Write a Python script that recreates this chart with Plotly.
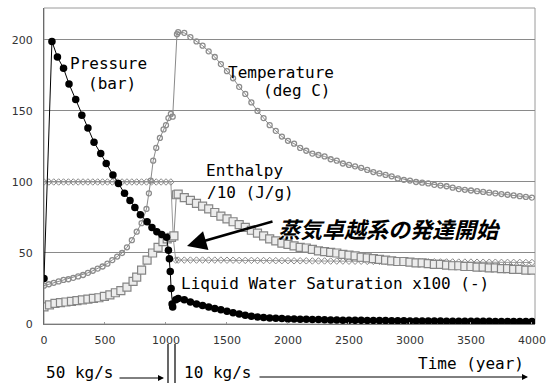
import plotly.graph_objects as go

# ---------------- data ----------------
late_years = [1100, 1150, 1200, 1250, 1300, 1350, 1400, 1450, 1500, 1550,
              1600, 1650, 1700, 1750, 1800, 1850, 1900, 1950, 2000, 2050,
              2100, 2150, 2200, 2250, 2300, 2350, 2400, 2450, 2500, 2550,
              2600, 2650, 2700, 2750, 2800, 2850, 2900, 2950, 3000, 3050,
              3100, 3150, 3200, 3250, 3300, 3350, 3400, 3450, 3500, 3550,
              3600, 3650, 3700, 3750, 3800, 3850, 3900, 3950, 4000]

pres_early_t = [0, 65, 110, 160, 205, 260, 310, 360, 410, 465, 510, 565, 610, 660,
                705, 745, 790, 845, 885, 925, 965, 1005, 1020, 1028, 1035, 1042,
                1050, 1055, 1080]
pres_early_v = [32, 199, 188, 180, 169, 158, 147, 138, 128, 120, 113, 105, 99, 92,
                87, 82, 77, 72, 68, 65, 63, 61, 52, 46, 37, 25, 14, 12, 17]
pres_late_v = [18, 17, 15.5, 14, 13, 12, 11, 10, 9, 8,
               7, 6.2, 5.5, 5, 4.5, 4.2, 4, 3.8, 3.6, 3.5,
               3.4, 3.3, 3.2, 3.1, 3.0, 2.9, 2.8, 2.7, 2.7, 2.6,
               2.6, 2.5, 2.5, 2.4, 2.4, 2.3, 2.3, 2.3, 2.2, 2.2,
               2.2, 2.1, 2.1, 2.1, 2.0, 2.0, 2.0, 2.0, 1.9, 1.9,
               1.9, 1.9, 1.8, 1.8, 1.8, 1.8, 1.7, 1.7, 1.7]

temp_early_t = [0, 40, 80, 120, 160, 200, 240, 280, 320, 360, 400, 440, 480, 520,
                560, 600, 640, 680, 720, 760, 800, 840, 860, 875, 895, 920, 950,
                980, 1000, 1020, 1040, 1055, 1090]
temp_early_v = [27, 28, 29, 30, 31, 31.5, 32.5, 33.5, 34.5, 36, 37.5, 39, 40.5, 42.5,
                45, 47.5, 50, 54, 59, 65, 71, 81, 92, 101, 115, 124, 131,
                137, 140, 145, 148, 146, 204]
temp_late_v = [205.5, 205, 202, 199, 196, 192, 188, 183, 178, 173,
               167, 162, 156, 150, 145, 140, 136, 132, 129, 127,
               124, 122, 120, 119, 118, 116, 115, 113, 112, 111,
               110, 108.5, 107, 106, 105, 104, 102.5, 101.5, 101, 100,
               99.5, 99, 98, 97.5, 97, 96, 95, 94.5, 94, 93.5,
               93, 92.5, 92, 91.5, 91, 90.5, 90, 89.5, 89]

enth_early_t = [0, 45, 90, 135, 180, 225, 270, 315, 360, 405, 450, 495, 540, 585,
                630, 680, 730, 760, 800, 845, 890, 935, 975, 1010, 1045, 1065, 1085]
enth_early_v = [12, 13.5, 14.5, 15, 15.5, 16, 16.5, 17, 17.5, 18, 18.5, 19.5, 20.5, 22,
                23.5, 26, 30, 33, 38, 45, 50, 54, 58, 60, 61, 62, 91]
enth_late_v = [91.5, 89, 87, 85, 83, 81, 78.5, 76, 74, 72,
               70, 68, 66, 64, 62, 60, 58.5, 57, 56, 55,
               54, 53.5, 52.5, 51.5, 51, 50.5, 50, 49, 48.5, 48,
               47, 46.5, 46, 45.5, 45, 44.5, 44, 44, 43.5, 43,
               43, 42.5, 42, 42, 41.5, 41, 41, 40.5, 40.5, 40,
               40, 39.5, 39.5, 39, 39, 38.5, 38.5, 38, 38]

sat_early_t = [0, 40, 80, 120, 160, 200, 240, 280, 320, 360, 400, 440, 480, 520,
               560, 600, 640, 680, 720, 760, 800, 840, 880, 920, 960, 1000, 1040,
               1060, 1080]
sat_early_v = [100, 100, 100, 100, 100, 100, 100, 100, 100, 100, 100, 100, 100, 100,
               100, 100, 100, 100, 100, 100, 100, 100, 100, 100, 100, 100, 100,
               60, 45]
sat_late_v = [45, 45, 45, 45, 45, 45, 45, 45, 44.9, 44.9,
              44.8, 44.8, 44.8, 44.7, 44.7, 44.7, 44.6, 44.6, 44.6, 44.5,
              44.5, 44.5, 44.4, 44.4, 44.4, 44.3, 44.3, 44.3, 44.2, 44.2,
              44.2, 44.1, 44.1, 44.1, 44.0, 44.0, 44.0, 43.9, 43.9, 43.9,
              43.8, 43.8, 43.8, 43.7, 43.7, 43.7, 43.6, 43.6, 43.6, 43.5,
              43.5, 43.5, 43.5, 43.4, 43.4, 43.4, 43.4, 43.3, 43.3]

y_ticks = [0, 50, 100, 150, 200]
x_ticks = [0, 500, 1000, 1500, 2000, 2500, 3000, 3500, 4000]

# ---------------- layout geometry ----------------
W, H = 559, 383
ML, MR, MT, MB = 44, 24, 8, 59
PW, PH = W - ML - MR, H - MT - MB


def px(x):
    return (x - ML) / PW


def py(y):
    return (H - MB - y) / PH


MONO = "DejaVu Sans Mono"
GRAYM = "#8c8c8c"

fig = go.Figure()

fig.add_trace(go.Scatter(
    x=sat_early_t + late_years, y=sat_early_v + sat_late_v, mode="lines+markers",
    line=dict(color="#9a9a9a", width=1),
    marker=dict(symbol="diamond-open", size=5, color="#8a8a8a", line=dict(width=1)),
    showlegend=False))

fig.add_trace(go.Scatter(
    x=temp_early_t + late_years, y=temp_early_v + temp_late_v, mode="lines+markers",
    line=dict(color="#8a8a8a", width=1),
    marker=dict(symbol="circle-open", size=5, color=GRAYM, line=dict(width=1.3)),
    showlegend=False))

fig.add_trace(go.Scatter(
    x=enth_early_t + late_years, y=enth_early_v + enth_late_v, mode="lines+markers",
    line=dict(color="#8a8a8a", width=1),
    marker=dict(symbol="square", size=8, color="#ececec",
                line=dict(color="#858585", width=1.2)),
    showlegend=False))

fig.add_trace(go.Scatter(
    x=pres_early_t + late_years, y=pres_early_v + pres_late_v, mode="lines+markers",
    line=dict(color="black", width=1),
    marker=dict(symbol="circle", size=7.5, color="black"),
    showlegend=False))

ann = []


def txt(s, x, y, xanchor="left", size=16, **kw):
    ann.append(dict(text=s, x=px(x), y=py(y), xref="paper", yref="paper",
                    xanchor=xanchor, yanchor="middle", showarrow=False,
                    font=dict(family=kw.pop("family", MONO), size=size,
                              color="black"), **kw))


txt("Pressure", 108, 63, xanchor="center")
txt("(bar)", 112, 83, xanchor="center")
txt("Temperature", 281, 72, xanchor="center")
txt("(deg C)", 261, 90)
txt("Enthalpy", 204, 170)
txt("/10 (J/g)", 205, 192)
txt("Liquid Water Saturation x100 (-)", 179, 283)
txt("<b><i>蒸気卓越系の発達開始</i></b>", 276, 228, size=22, family="Noto Sans CJK JP")
txt("50 kg/s", 44, 372)
txt("10 kg/s", 182, 372)
txt("Time (year)", 416, 363)


def arrow(x0, y0, x1, y1, width, size, head=2):
    ann.append(dict(x=px(x1), y=py(y1), xref="paper", yref="paper",
                    ax=x0 - x1, ay=y0 - y1, axref="pixel", ayref="pixel",
                    text="", showarrow=True, arrowhead=head, arrowsize=size,
                    arrowwidth=width, arrowcolor="black"))


arrow(274, 221, 187, 246, 2.6, 1.5)
arrow(118, 378, 164, 378, 1, 1.2)
arrow(258, 377, 528, 377, 1, 1.2)

shapes = [
    dict(type="line", xref="paper", yref="paper", x0=px(168), x1=px(168),
         y0=py(344), y1=py(383), line=dict(color="black", width=1.2)),
    dict(type="line", xref="paper", yref="paper", x0=px(175), x1=px(175),
         y0=py(344), y1=py(383), line=dict(color="black", width=1.2)),
    dict(type="rect", xref="paper", yref="paper", x0=0, x1=1, y0=0, y1=1,
         line=dict(color="#9a9a9a", width=1), layer="below"),
]

fig.update_layout(
    width=W, height=H,
    margin=dict(l=ML, r=MR, t=MT, b=MB),
    paper_bgcolor="white", plot_bgcolor="white",
    annotations=ann, shapes=shapes,
    xaxis=dict(range=[0, 4025], tickvals=x_ticks, ticktext=[str(v) for v in x_ticks],
               showgrid=False, zeroline=False, showline=True, linecolor="#7a7a7a",
               linewidth=1, ticks="inside", ticklen=2, tickcolor="#999",
               ticklabelstandoff=6,
               tickfont=dict(family="DejaVu Sans", size=11, color="#333")),
    yaxis=dict(range=[0, 222.5], tickvals=y_ticks, ticktext=[str(v) for v in y_ticks],
               showgrid=True, gridcolor="#8a8a8a", gridwidth=1, zeroline=False,
               showline=True, linecolor="#6a6a6a", linewidth=1, ticks="",
               ticklabelstandoff=8,
               tickfont=dict(family="DejaVu Sans", size=11, color="#333")),
)

fig.write_html("out.html")
